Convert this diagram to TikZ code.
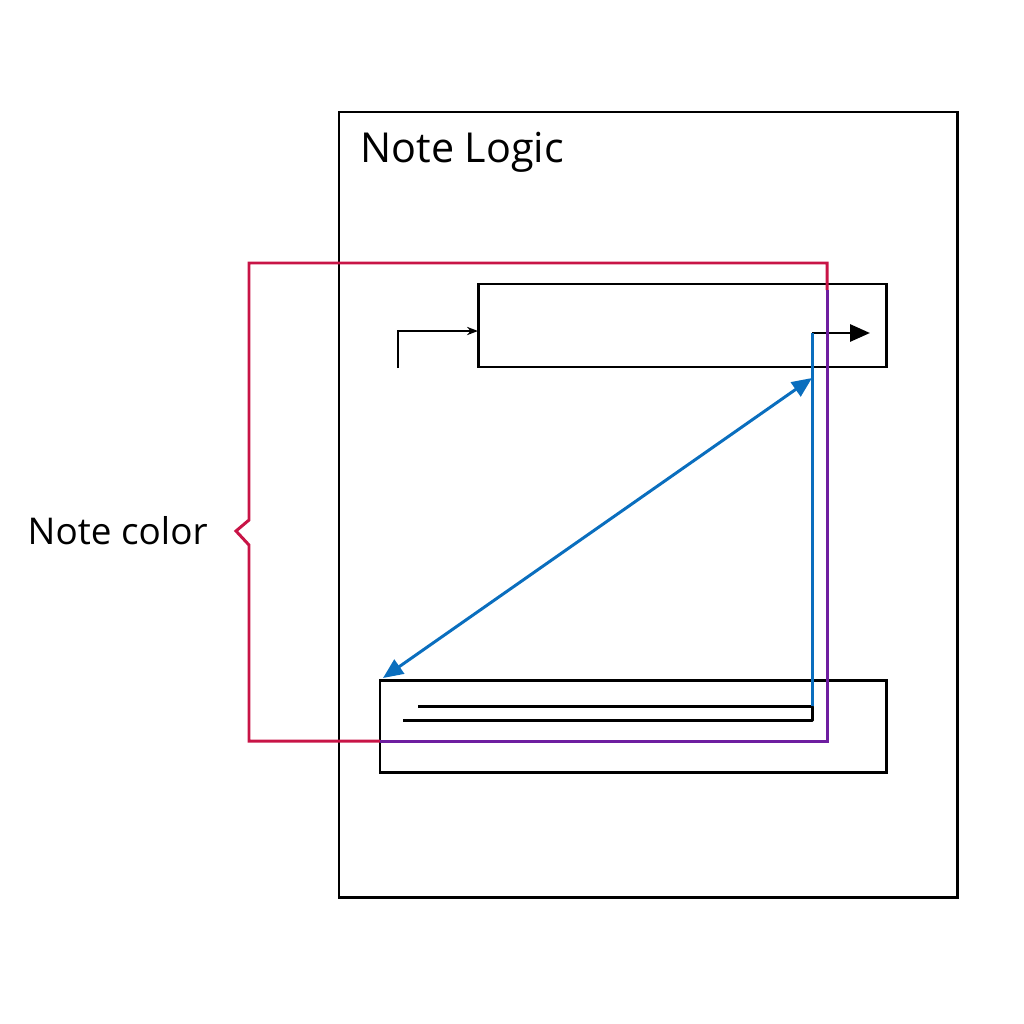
\documentclass[tikz,border=0pt]{standalone}
\usepackage{fontspec}
\setmainfont{Open Sans}
\usetikzlibrary{arrows.meta}

\definecolor{notered}{RGB}{200,20,70}
\definecolor{notepurple}{RGB}{110,30,160}
\definecolor{noteblue}{RGB}{10,110,190}

\begin{document}
\begin{tikzpicture}[
    x=0.02cm, y=-0.02cm,
    box/.style={draw, line width=1.7pt},
    wire/.style={line width=1.7pt},
    arr/.style={-{Triangle[length=4mm, width=3.4mm]}, line width=1.7pt},
    small/.style={-{Stealth[length=2.2mm]}, line width=1.3pt},
    lbl/.style={font=\fontsize{21}{25}\selectfont, inner sep=0pt},
]
\useasboundingbox (0,0) rectangle (1024,1024);

% Boxes
\draw[box] (339,112) rectangle (957,897);
\node[lbl, font=\fontsize{23.5}{28}\selectfont, anchor=west] (title) at (360,152) {Note Logic};
\draw[box] (478,284) rectangle (886,367);
\draw[box] (380,680) rectangle (886,772);
\coordinate (topin) at (478,331);
\coordinate (tap) at (812,333);
\coordinate (tip) at (870,333);

% Entry and exit arrows
\draw[small] (398,368) |- (topin);
\draw[arr] (tap) -- (tip);

% Signal line in lower box
\draw[wire, line join=round] (418,706) -- (812,706) -- (812,720) -- (403,720);
\draw[wire, noteblue] (tap) -- (812,706);

% Color link
\draw[{Triangle[length=4mm, width=3.4mm]}-{Triangle[length=4mm, width=3.4mm]}, line width=1.7pt, noteblue]
    (383,678) -- (812,378);

% Bracket
\draw[wire, notered] (380,741) -- (249,741) -- (249,545) -- (236,531) -- (249,520)
    -- (249,263) -- (827,263) -- (827,290);
\draw[wire, notepurple] (827,290) -- (827,741) -- (380,741);
\node[lbl, anchor=east] (color) at (208,531) {Note color};
\end{tikzpicture}
\end{document}
